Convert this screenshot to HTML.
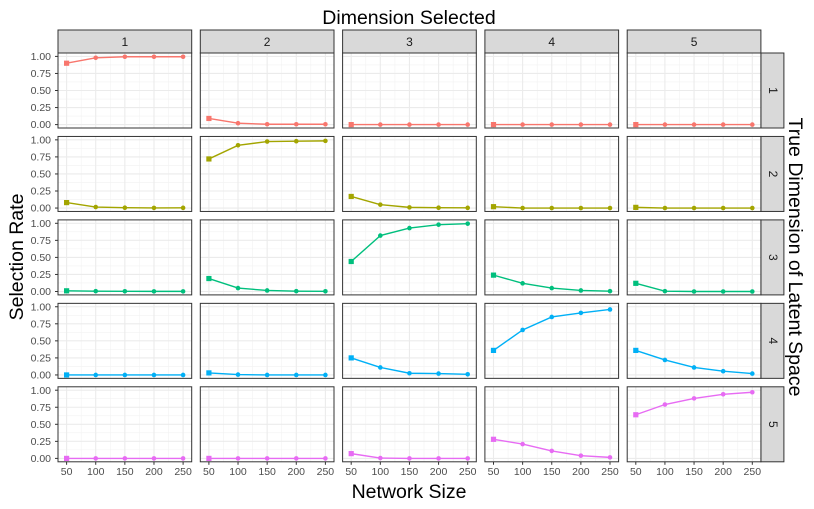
<!DOCTYPE html>
<html><head><meta charset="utf-8"><style>body{margin:0;background:#fff}svg{display:block;font-family:"Liberation Sans",sans-serif}</style></head>
<body>
<svg id="c" width="814" height="509"></svg>
<script>
const sizes=[50,100,150,200,250];
const dims=[1,2,3,4,5];
const yTicks=[0,0.25,0.5,0.75,1];
const yTickLabels=["0.00","0.25","0.50","0.75","1.00"];
const colors=["#F8766D","#A3A500","#00BF7D","#00B0F6","#E76BF3"];
const row1=[[.90,.98,.995,.995,.995],[.09,.02,.005,.005,.005],[0,0,0,0,0],[0,0,0,0,0],[0,0,0,0,0]];
const row2=[[.08,.015,.005,.002,.003],[.72,.92,.975,.98,.985],[.17,.05,.01,.005,.003],[.02,0,0,0,0],[.01,0,0,0,0]];
const row3=[[.01,.005,.003,.002,.002],[.19,.05,.015,.005,.003],[.44,.82,.93,.98,.995],[.24,.12,.05,.015,.005],[.12,.005,0,0,0]];
const row4=[[0,0,0,0,0],[.03,.005,0,0,0],[.25,.11,.025,.02,.01],[.36,.66,.85,.91,.96],[.36,.22,.11,.055,.02]];
const row5=[[0,0,0,0,0],[0,0,0,0,0],[.07,.005,0,0,0],[.28,.21,.11,.04,.015],[.64,.79,.88,.94,.97]];
const rates=[row1,row2,row3,row4,row5];

const S=document.getElementById('c'),NS='http://www.w3.org/2000/svg';
function mk(t,a,p){const e=document.createElementNS(NS,t);for(const k in a)e.setAttribute(k,a[k]);(p||S).appendChild(e);return e;}
const L0=58,PW=133.7,CP=142.3,T0=53,PH=75,RP=83.45;
function xs(c,v){return L0+c*CP+8.6+(v-50)/200*(PW-17.2);}
function ys(r,v){return T0+r*RP+PH-3.4-v*(PH-6.8);}

let t=mk('text',{x:409,y:24,'font-size':19.5,'text-anchor':'middle',fill:'#000'});t.textContent='Dimension Selected';

t=mk('text',{x:409,y:498,'font-size':19.5,'text-anchor':'middle',fill:'#000'});t.textContent='Network Size';

t=mk('text',{x:0,y:0,'font-size':19.5,'text-anchor':'middle',fill:'#000',transform:'translate(23,257) rotate(-90)'});t.textContent='Selection Rate';

t=mk('text',{x:0,y:0,'font-size':19.5,'text-anchor':'middle',fill:'#000',transform:'translate(789,257) rotate(90)'});t.textContent='True Dimension of Latent Space';


dims.forEach((d,c)=>{
  const x=L0+c*CP;
  const g=mk('g',{});
  
  mk('rect',{x:x,y:30,width:PW,height:23,fill:'#d9d9d9',stroke:'#333','stroke-width':1},g);
  const tt=mk('text',{x:x+PW/2,y:46,'font-size':12,'text-anchor':'middle',fill:'#1a1a1a'},g);tt.textContent=d;
  const xl=mk('g',{});
  
  sizes.forEach(s=>{const e=mk('text',{x:xs(c,s),y:475,'font-size':10.5,'text-anchor':'middle',fill:'#4d4d4d'},xl);e.textContent=s;
    mk('line',{x1:xs(c,s),x2:xs(c,s),y1:T0+4*RP+PH,y2:T0+4*RP+PH+3,stroke:'#333'},xl);});
});
dims.forEach((d,r)=>{
  const y=T0+r*RP;
  const g=mk('g',{});
  
  mk('rect',{x:L0+4*CP+PW,y:y,width:23,height:PH,fill:'#d9d9d9',stroke:'#333','stroke-width':1},g);
  const tt=mk('text',{x:0,y:0,'font-size':12,'text-anchor':'middle',fill:'#1a1a1a',transform:`translate(${L0+4*CP+PW+8},${y+PH/2}) rotate(90)`},g);tt.textContent=d;
  const yl=mk('g',{});
  
  yTicks.forEach((v,i)=>{const e=mk('text',{x:51,y:ys(r,v)+3.6,'font-size':10.5,'text-anchor':'end',fill:'#4d4d4d'},yl);e.textContent=yTickLabels[i];
    mk('line',{x1:55,x2:58,y1:ys(r,v),y2:ys(r,v),stroke:'#333'},yl);});
  dims.forEach((d2,c)=>{
    const x=L0+c*CP;
    const p=mk('g',{});
    
    mk('rect',{x:x,y:y,width:PW,height:PH,fill:'#fff'},p);
    for(let i=0;i<4;i++){const v=yTicks[i]+0.125;mk('line',{x1:x,x2:x+PW,y1:ys(r,v),y2:ys(r,v),stroke:'#f2f2f2','stroke-width':0.6},p);}
    for(let i=0;i<4;i++){const v=sizes[i]+25;mk('line',{x1:xs(c,v),x2:xs(c,v),y1:y,y2:y+PH,stroke:'#f2f2f2','stroke-width':0.6},p);}
    yTicks.forEach(v=>mk('line',{x1:x,x2:x+PW,y1:ys(r,v),y2:ys(r,v),stroke:'#ebebeb','stroke-width':1.1},p));
    sizes.forEach(s=>mk('line',{x1:xs(c,s),x2:xs(c,s),y1:y,y2:y+PH,stroke:'#ebebeb','stroke-width':1.1},p));
    const vals=rates[r][c],col=colors[r];
    const pl=mk('polyline',{points:vals.map((v,i)=>xs(c,sizes[i])+','+ys(r,v)).join(' '),fill:'none',stroke:col,'stroke-width':1.4},p);
    
    vals.forEach((v,i)=>{
      let m;
      if(i===0) m=mk('rect',{x:xs(c,sizes[i])-2.6,y:ys(r,v)-2.6,width:5.2,height:5.2,fill:col},p);
      else m=mk('circle',{cx:xs(c,sizes[i]),cy:ys(r,v),r:2.3,fill:col},p);
      
    });
    mk('rect',{x:x,y:y,width:PW,height:PH,fill:'none',stroke:'#333','stroke-width':1},p);
  });
});
</script>
</body></html>
